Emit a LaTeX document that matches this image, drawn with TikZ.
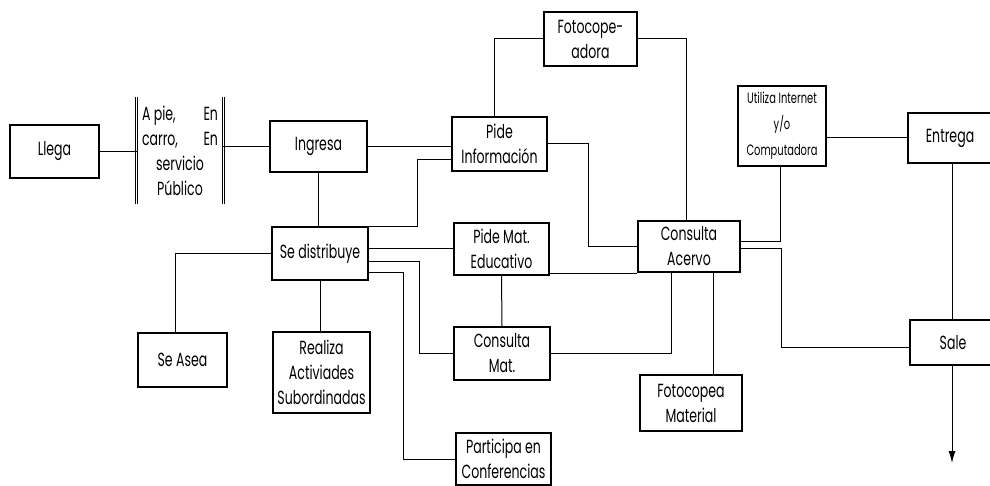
\documentclass[tikz,border=0pt]{standalone}
\usepackage{fontspec}
\setmainfont{Poppins}[FakeStretch=0.66]
\usetikzlibrary{arrows.meta,positioning}
\newcommand{\letra}{\fontsize{19}{25}\selectfont}

\begin{document}
\begin{tikzpicture}[x=1pt,y=-1pt,
    caja/.style={draw,line width=1.6pt,align=center,inner sep=2pt,font=\letra},
    linea/.style={line width=1pt}]
  \useasboundingbox (0,0) rectangle (990,486);
  \node[caja,minimum width=89pt,minimum height=53pt] (llega) at (54.5,151.5) {Llega};
  \node[align=center,font=\letra,minimum width=86pt,minimum height=107pt,inner sep=0pt] (medio) at (180,150.5)
    {\makebox[76pt]{A pie,\hfill En}\\ \makebox[76pt]{carro,\hfill En}\\ servicio\\ Público};
  \draw[double,double distance=1.2pt,line width=0.9pt] (medio.north west) -- (medio.south west);
  \draw[double,double distance=1.2pt,line width=0.9pt] (medio.north east) -- (medio.south east);
  \node[caja,minimum width=97pt,minimum height=51pt] (ingresa) at (318.5,146.5) {Ingresa};
  \node[caja,minimum width=96pt,minimum height=53pt] (distrib) at (320,253.5) {Se distribuye};
  \node[caja,minimum width=95pt,minimum height=54pt] (pideinfo) at (499.5,144) {Pide\\ Información};
  \node[caja,minimum width=93pt,minimum height=54pt] (fotocop) at (590.5,39) {Fotocope-\\ adora};
  \node[caja,minimum width=95pt,minimum height=52pt] (pidemat) at (501.5,249) {Pide Mat.\\ Educativo};
  \node[caja,minimum width=96pt,minimum height=53pt] (consmat) at (502,353.5) {Consulta\\ Mat.};
  \node[caja,minimum width=95pt,minimum height=52pt] (participa) at (503.5,459) {Participa en\\ Conferencias};
  \node[caja,minimum width=89pt,minimum height=54pt] (asea) at (182.5,360) {Se Asea};
  \node[caja,minimum width=97pt,minimum height=81pt] (realiza) at (321.5,372.5) {Realiza\\ Activiades\\ Subordinadas};
  \node[caja,minimum width=102pt,minimum height=51pt] (acervo) at (689,246.5) {Consulta\\ Acervo};
  \node[caja,minimum width=102pt,minimum height=56pt] (fotomat) at (691,403) {Fotocopea\\ Material};
  \node[caja,minimum width=88pt,minimum height=80pt,font=\fontsize{15}{26}\selectfont] (internet) at (782,126) {Utiliza Internet\\ y/o\\ Computadora};
  \node[caja,minimum width=84pt,minimum height=50pt] (entrega) at (950,138) {Entrega};
  \node[caja,minimum width=86pt,minimum height=45pt] (sale) at (953,342.5) {Sale};
  \coordinate (fin) at (952,463);

  \draw[linea] (llega.east) -- (llega.east -| medio.west);
  \draw[linea] (ingresa.west) -- (ingresa.west -| medio.east);
  \draw[linea] (ingresa.east) -- (ingresa.east -| pideinfo.west);
  \draw[linea] (ingresa.south) -- (ingresa.south |- distrib.north);
  \draw[linea] (distrib.north east) -- ++(49,0) |- ([yshift=-16pt]pideinfo.west);
  \draw[linea] (fotocop.west) -| ([xshift=-5.5pt]pideinfo.north);
  \draw[linea] (fotocop.east) -| ([xshift=-3pt]acervo.north);
  \draw[linea] (pideinfo.east) -- ++(41,0) |- (acervo.west);
  \draw[linea] (pidemat.west) -- (pidemat.west -| distrib.east);
  \draw[linea] ([yshift=2pt]pidemat.south east) -- ([yshift=2pt]pidemat.south east -| acervo.west);
  \draw[linea] (pidemat.south) -- (consmat.north);
  \draw[linea] ([yshift=-8.5pt]distrib.east) -- ++(51,0) |- (consmat.west);
  \draw[linea] ([yshift=-19.5pt]distrib.east) -- ++(35,0) |- (participa.west);
  \draw[linea] (distrib.west) -| ([xshift=-7.5pt]asea.north);
  \draw[linea] (distrib.south) -- (distrib.south |- realiza.north);
  \draw[linea] (consmat.east) -| ([xshift=-18pt]acervo.south);
  \draw[linea] ([xshift=24pt]acervo.south) -- ([xshift=24pt]acervo.south |- fotomat.north);
  \draw[linea] ([yshift=4.5pt]acervo.east) -| ([xshift=-2pt]internet.south);
  \draw[linea] ([yshift=-2.5pt]acervo.east) -- ++(41,0) |- ([yshift=-4.5pt]sale.west);
  \draw[linea] (entrega.west) -- (entrega.west -| internet.east);
  \draw[linea] ([xshift=2pt]entrega.south) -- ([xshift=2pt]entrega.south |- sale.north);
  \draw[linea,-{Latex[length=12pt,width=7pt]}] ([xshift=-1pt]sale.south) -- (fin);
\end{tikzpicture}
\end{document}
